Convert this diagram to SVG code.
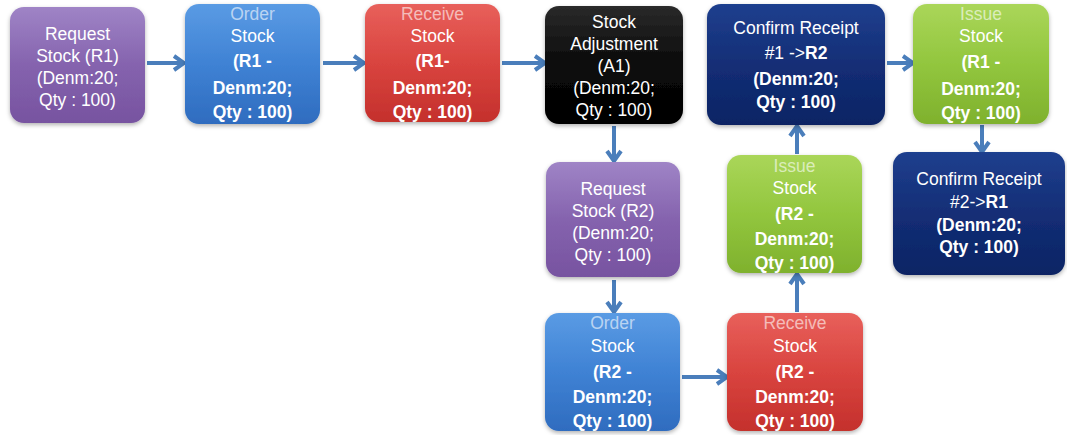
<svg xmlns="http://www.w3.org/2000/svg" width="1067" height="435" viewBox="0 0 1067 435">
<defs>
<style>
.t{font-family:"Liberation Sans",Arial,sans-serif;font-size:17.5px;fill:#fff;text-anchor:middle}
.b{font-weight:bold;font-size:17.5px}
.f{fill-opacity:0.6}
.box{filter:url(#sh)}
.cn{stroke:#4a7ebb;stroke-width:4;fill:none;marker-end:url(#ah)}
</style>
<filter id="sh" x="-10%" y="-10%" width="120%" height="125%">
<feDropShadow dx="0" dy="2" stdDeviation="2" flood-color="#000" flood-opacity="0.3"/>
</filter>
<marker id="ah" markerUnits="userSpaceOnUse" markerWidth="18" markerHeight="18" viewBox="0 0 18 18" refX="15" refY="9" orient="auto">
<path d="M5,2 L15,9 L5,16" fill="none" stroke="#4a7ebb" stroke-width="4"/>
</marker>
<linearGradient id="gP" x1="0" y1="0" x2="0" y2="1"><stop offset="0" stop-color="#9f84c6"/><stop offset="0.5" stop-color="#8563ae"/><stop offset="1" stop-color="#7753a0"/></linearGradient>
<linearGradient id="gB" x1="0" y1="0" x2="0" y2="1"><stop offset="0" stop-color="#5a9be4"/><stop offset="0.5" stop-color="#3f82d4"/><stop offset="1" stop-color="#2f6cbf"/></linearGradient>
<linearGradient id="gR" x1="0" y1="0" x2="0" y2="1"><stop offset="0" stop-color="#e8605b"/><stop offset="0.5" stop-color="#d9443f"/><stop offset="1" stop-color="#c4302c"/></linearGradient>
<linearGradient id="gK" x1="0" y1="0" x2="0" y2="1"><stop offset="0" stop-color="#2a2a2a"/><stop offset="0.5" stop-color="#0a0a0a"/><stop offset="1" stop-color="#000"/></linearGradient>
<linearGradient id="gN" x1="0" y1="0" x2="0" y2="1"><stop offset="0" stop-color="#1f3f8e"/><stop offset="0.5" stop-color="#132e76"/><stop offset="1" stop-color="#0c2464"/></linearGradient>
<linearGradient id="gG" x1="0" y1="0" x2="0" y2="1"><stop offset="0" stop-color="#aad659"/><stop offset="0.5" stop-color="#92c63e"/><stop offset="1" stop-color="#7fb12d"/></linearGradient>
</defs>
<rect width="1067" height="435" fill="#fff"/>

<g id="connectors">
<line class="cn" x1="147" y1="63" x2="184" y2="63"/>
<line class="cn" x1="323" y1="63" x2="364" y2="63"/>
<line class="cn" x1="502" y1="63" x2="545" y2="63"/>
<line class="cn" x1="887" y1="63" x2="913" y2="63"/>
<line class="cn" x1="614" y1="126" x2="614" y2="161"/>
<line class="cn" x1="614" y1="280" x2="614" y2="312"/>
<line class="cn" x1="682" y1="377" x2="727" y2="377"/>
<line class="cn" x1="797" y1="312" x2="797" y2="274"/>
<line class="cn" x1="797" y1="154" x2="797" y2="126"/>
<line class="cn" x1="982" y1="125" x2="982" y2="152"/>
</g>

<g id="n1">
<rect class="box" x="10" y="7" width="135" height="116" rx="14" fill="url(#gP)"/>
<text class="t" x="77.5" y="40">Request</text>
<text class="t" x="77.5" y="62">Stock (R1)</text>
<text class="t" x="77.5" y="84">(Denm:20;</text>
<text class="t" x="77.5" y="106">Qty : 100)</text>
</g>

<g id="n2">
<rect class="box" x="185" y="4" width="135" height="120" rx="14" fill="url(#gB)"/>
<text class="t f" x="252.5" y="20">Order</text>
<text class="t" x="252.5" y="42">Stock</text>
<text class="t b" x="252.5" y="67">(R1 -</text>
<text class="t b" x="252.5" y="94">Denm:20;</text>
<text class="t b" x="252.5" y="118">Qty : 100)</text>
</g>

<g id="n3">
<rect class="box" x="365" y="4" width="135" height="118" rx="14" fill="url(#gR)"/>
<text class="t f" x="432.5" y="20">Receive</text>
<text class="t" x="432.5" y="42">Stock</text>
<text class="t b" x="432.5" y="67">(R1-</text>
<text class="t b" x="432.5" y="94">Denm:20;</text>
<text class="t b" x="432.5" y="118">Qty : 100)</text>
</g>

<g id="n4">
<rect class="box" x="545" y="6" width="138" height="118" rx="14" fill="url(#gK)"/>
<text class="t" x="614" y="28">Stock</text>
<text class="t" x="614" y="50">Adjustment</text>
<text class="t" x="614" y="72">(A1)</text>
<text class="t" x="614" y="94">(Denm:20;</text>
<text class="t" x="614" y="116">Qty : 100)</text>
</g>

<g id="n5">
<rect class="box" x="707" y="4" width="178" height="121" rx="14" fill="url(#gN)"/>
<text class="t" x="796" y="34">Confirm Receipt</text>
<text class="t" x="796" y="59">#1 -&gt;<tspan class="b">R2</tspan></text>
<text class="t b" x="796" y="85">(Denm:20;</text>
<text class="t b" x="796" y="108">Qty : 100)</text>
</g>

<g id="n6">
<rect class="box" x="913" y="4" width="136" height="120" rx="14" fill="url(#gG)"/>
<text class="t f" x="981" y="20">Issue</text>
<text class="t" x="981" y="42">Stock</text>
<text class="t b" x="981" y="68">(R1 -</text>
<text class="t b" x="981" y="95">Denm:20;</text>
<text class="t b" x="981" y="119">Qty : 100)</text>
</g>

<g id="n7">
<rect class="box" x="546" y="162" width="134" height="115" rx="14" fill="url(#gP)"/>
<text class="t" x="613" y="195">Request</text>
<text class="t" x="613" y="217">Stock (R2)</text>
<text class="t" x="613" y="239">(Denm:20;</text>
<text class="t" x="613" y="261">Qty : 100)</text>
</g>

<g id="n8">
<rect class="box" x="727" y="155" width="135" height="118" rx="14" fill="url(#gG)"/>
<text class="t f" x="794.5" y="172">Issue</text>
<text class="t" x="794.5" y="194">Stock</text>
<text class="t b" x="794.5" y="220">(R2 -</text>
<text class="t b" x="794.5" y="245">Denm:20;</text>
<text class="t b" x="794.5" y="269">Qty : 100)</text>
</g>

<g id="n9">
<rect class="box" x="893" y="152" width="172" height="123" rx="14" fill="url(#gN)"/>
<text class="t" x="979" y="185">Confirm Receipt</text>
<text class="t" x="979" y="208">#2-&gt;<tspan class="b">R1</tspan></text>
<text class="t b" x="979" y="231">(Denm:20;</text>
<text class="t b" x="979" y="253">Qty : 100)</text>
</g>

<g id="n10">
<rect class="box" x="545" y="313" width="135" height="118" rx="14" fill="url(#gB)"/>
<text class="t f" x="612.5" y="329">Order</text>
<text class="t" x="612.5" y="352">Stock</text>
<text class="t b" x="612.5" y="378">(R2 -</text>
<text class="t b" x="612.5" y="403">Denm:20;</text>
<text class="t b" x="612.5" y="427">Qty : 100)</text>
</g>

<g id="n11">
<rect class="box" x="727" y="313" width="136" height="118" rx="14" fill="url(#gR)"/>
<text class="t f" x="795" y="329">Receive</text>
<text class="t" x="795" y="352">Stock</text>
<text class="t b" x="795" y="378">(R2 -</text>
<text class="t b" x="795" y="403">Denm:20;</text>
<text class="t b" x="795" y="427">Qty : 100)</text>
</g>
</svg>
